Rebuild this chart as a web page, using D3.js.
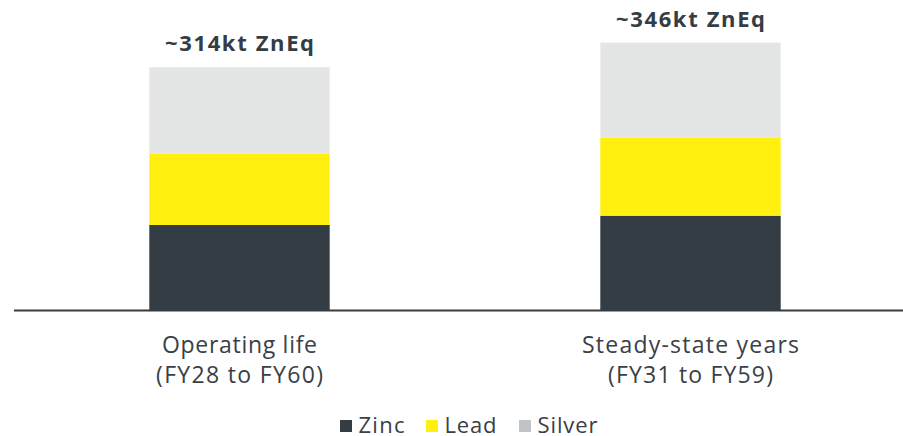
<!DOCTYPE html>
<html><head><meta charset="utf-8">
<script src="https://cdn.jsdelivr.net/npm/d3@7"></script>
<style>body{margin:0;background:#fff}svg{display:block}text{font-family:"Open Sans",sans-serif}</style>
</head><body><svg id="c" width="903" height="436"></svg>
<script>
const categories = [["Operating life","(FY28 to FY60)"],["Steady-state years","(FY31 to FY59)"]];
const series = ["Zinc","Lead","Silver"];
const zinc = [110, 122];
const lead = [92, 101];
const silver = [112, 123];
const totalLabels = ["~314kt ZnEq","~346kt ZnEq"];

const colors = {Zinc:"#333d43", Lead:"#fff00f", Silver:"#e4e5e5"};
const legendColors = {Zinc:"#333d43", Lead:"#fff00f", Silver:"#c1c4c7"};
// rendered text widths (layout)
const catW = [[155,167],[217,165]];
const legW = {Zinc:46, Lead:52, Silver:60};

const svg = d3.select("#c");
const x = d3.scaleBand().domain([0,1]).range([14,916]).paddingInner(0.6).paddingOuter(0.3);
const y = d3.scaleLinear().domain([0,350]).range([310,39.5]);

const rows = [0,1].map(i=>({i, Zinc:zinc[i], Lead:lead[i], Silver:silver[i]}));
const stacked = d3.stack().keys(series)(rows);

svg.append("g").selectAll("g").data(stacked).join("g")
  .attr("fill", d=>colors[d.key])
  .selectAll("rect").data(d=>d).join("rect")
  .attr("x", d=>x(d.data.i))
  .attr("width", x.bandwidth())
  .attr("y", d=>y(d[1]))
  .attr("height", d=>y(d[0])-y(d[1]));

svg.append("line").attr("x1",14).attr("x2",903).attr("y1",310.5).attr("y2",310.5)
  .attr("stroke","#333d43").attr("stroke-width",2);

svg.append("g").selectAll("text").data(rows).join("text")
  .attr("x", d=>x(d.i)+x.bandwidth()/2)
  .attr("y", d=>y(d.Zinc+d.Lead+d.Silver)-16)
  .attr("text-anchor","middle").attr("font-weight","bold").attr("font-size",22)
  .attr("textLength",149).attr("lengthAdjust","spacing")
  .attr("fill","#333d43")
  .text(d=>totalLabels[d.i]);

const cat = svg.append("g").selectAll("text").data(rows).join("text")
  .attr("text-anchor","middle").attr("font-size",23).attr("fill","#3a4046");
cat.append("tspan").attr("x", d=>x(d.i)+x.bandwidth()/2).attr("y",353)
  .attr("textLength",d=>catW[d.i][0]).attr("lengthAdjust","spacing").text(d=>categories[d.i][0]);
cat.append("tspan").attr("x", d=>x(d.i)+x.bandwidth()/2).attr("y",383)
  .attr("textLength",d=>catW[d.i][1]).attr("lengthAdjust","spacing").text(d=>categories[d.i][1]);

const legX = [340, 426, 519];
const lg = svg.append("g").selectAll("g").data(series).join("g")
  .attr("transform",(d,i)=>`translate(${legX[i]},0)`);
lg.append("rect").attr("x",0).attr("y",420).attr("width",12).attr("height",12).attr("fill",d=>legendColors[d]);
lg.append("text").attr("x",18.5).attr("y",432.5).attr("font-size",22).attr("fill","#3a4046")
  .attr("textLength",d=>legW[d]).attr("lengthAdjust","spacing").text(d=>d);
</script></body></html>
